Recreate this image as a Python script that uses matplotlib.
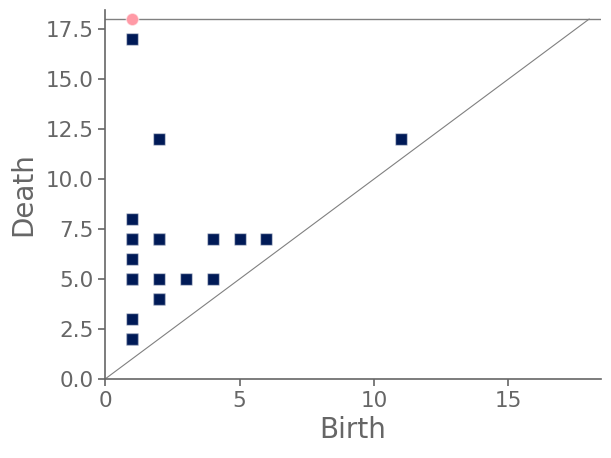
import matplotlib
matplotlib.use("Agg")
import matplotlib.pyplot as plt
import numpy as np

# Finite points (birth, death); some repeat (overlapping marks)
births = [1, 2, 11, 1, 1, 1, 2, 2, 4, 5, 6, 1, 1, 1, 2, 3, 4, 2, 2, 1, 1, 1, 1]
deaths = [17, 12, 12, 8, 7, 7, 7, 7, 7, 7, 7, 6, 5, 5, 5, 5, 5, 4, 4, 3, 2, 2, 2]
# Infinite-death points
inf_births = [1]
inf_level = 18

fig = plt.figure(figsize=(6.11, 4.58), dpi=100)
ax = fig.add_axes([0.172, 0.1725, 0.812, 0.8055])

lim = 18.45
ax.plot([0, inf_level], [0, inf_level], color="#808080", lw=0.8, zorder=1)
ax.axhline(inf_level, color="#808080", lw=1.0, zorder=1)

ax.scatter(births, deaths, marker="s", s=80, color="#001a57",
           edgecolors=(1, 1, 1, 0.5), linewidths=1.0, zorder=3)
ax.scatter(inf_births, [inf_level] * len(inf_births), marker="o", s=80,
           color="#ff9aa6", edgecolors=(1, 1, 1, 0.5), linewidths=1.0, zorder=3)

ax.set_xlim(0, lim)
ax.set_ylim(0, lim)
ax.set_xticks([0, 5, 10, 15])
ax.set_yticks(np.arange(0, 17.6, 2.5))
ax.set_yticklabels([f"{v:.1f}" for v in np.arange(0, 17.6, 2.5)])

for s in ["top", "right"]:
    ax.spines[s].set_visible(False)
for s in ["left", "bottom"]:
    ax.spines[s].set_color("#666666")
    ax.spines[s].set_linewidth(1.2)
ax.tick_params(colors="#666666", labelsize=15.5, length=5, width=1.2)
ax.set_xlabel("Birth", fontsize=20, color="#666666")
ax.set_ylabel("Death", fontsize=20, color="#666666", labelpad=6)

fig.savefig("out.png", dpi=100)
